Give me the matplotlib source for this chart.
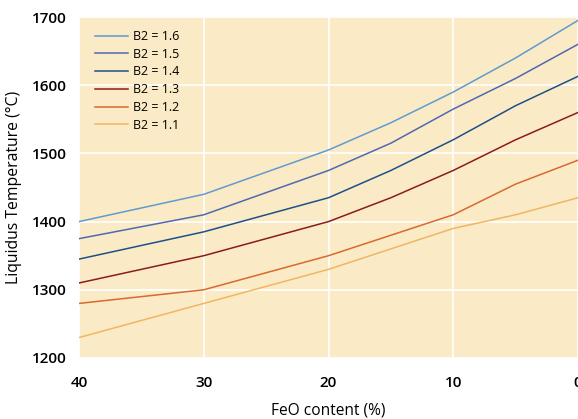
import matplotlib
matplotlib.use("Agg")
import matplotlib.pyplot as plt

feo = [40, 30, 20, 15, 10, 5, 0]
labels = ["B2 = 1.6", "B2 = 1.5", "B2 = 1.4", "B2 = 1.3", "B2 = 1.2", "B2 = 1.1"]
b16 = [1400, 1440, 1505, 1545, 1590, 1640, 1695]
b15 = [1375, 1410, 1475, 1515, 1565, 1610, 1660]
b14 = [1345, 1385, 1435, 1475, 1520, 1570, 1613]
b13 = [1310, 1350, 1400, 1435, 1475, 1520, 1560]
b12 = [1280, 1300, 1350, 1380, 1410, 1455, 1490]
b11 = [1230, 1280, 1330, 1360, 1390, 1410, 1435]
series = [b16, b15, b14, b13, b12, b11]
colors = ["#5F9BD0", "#5068B0", "#1E4F8A", "#8A1C1C", "#D9692E", "#F0B662"]

plt.rcParams['font.family'] = ['Open Sans', 'DejaVu Sans']

fig = plt.figure(figsize=(5.78, 4.19), dpi=100)
ax = fig.add_axes([0.1367, 0.1456, 0.8633, 0.8138])
ax.set_facecolor("#FAEBC6")
for s, c, l in zip(series, colors, labels):
    ax.plot(feo, s, color=c, lw=1.1, label=l)

ax.set_xlim(40, 0)
ax.set_ylim(1200, 1700)
ax.set_xticks([40, 30, 20, 10, 0])
ax.set_yticks([1200, 1300, 1400, 1500, 1600, 1700])
ax.grid(True, color="white", lw=1.2)
ax.set_axisbelow(True)
for sp in ax.spines.values():
    sp.set_visible(False)
ax.tick_params(length=0, labelsize=11)
for t in ax.get_xticklabels() + ax.get_yticklabels():
    t.set_fontweight("semibold")
ax.tick_params(axis='x', pad=13)
ax.tick_params(axis='y', pad=9)
ax.set_xlabel("FeO content (%)", fontsize=11.2, labelpad=9)
ax.set_ylabel("Liquidus Temperature (°C)", fontsize=11.3, labelpad=7)

leg = ax.legend(loc="upper left", frameon=False, fontsize=9, handlelength=2.6,
                handletextpad=0.45, labelspacing=0.38, borderaxespad=0.5,
                bbox_to_anchor=(0.01, 0.995))
fig.savefig("out.png", dpi=100)
